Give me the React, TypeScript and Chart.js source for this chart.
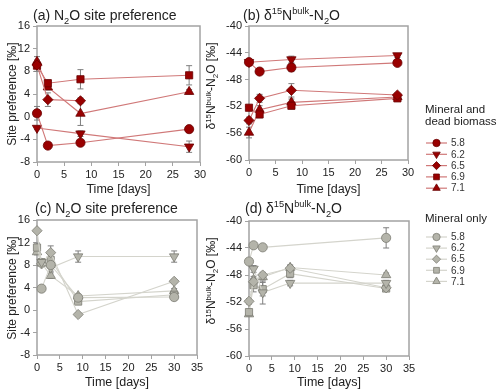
import React, { useEffect, useRef } from 'react';
import { Chart, registerables } from 'chart.js';

Chart.register(...registerables);

const FONT = '"Liberation Sans", Arial, Helvetica, sans-serif';

// ---------------- data ----------------
const DAYS_BIOMASS = [0, 2, 8, 28];
const DAYS_MINERAL = [0, 1, 3, 9, 30];
const PH_LABELS = ['5.8', '6.2', '6.5', '6.9', '7.1'];

// (a) site preference, mineral + dead biomass
const SP_BIO_58 = [0.6, -5.1, -4.6, -2.2];
const SP_BIO_62 = [-2.0, null, -3.0, -5.3];
const SP_BIO_65 = [9.1, 3.0, 2.8, null];
const SP_BIO_69 = [9.0, 5.9, 6.6, 7.3];
const SP_BIO_71 = [9.7, 5.2, 0.55, 4.4];
const SP_BIO_ERR_58 = [1.2, 0.5, 0.5, 0.5];
const SP_BIO_ERR_62 = [0.3, 0, 0.5, 1.0];
const SP_BIO_ERR_65 = [0.5, 1.2, 0.5, 0];
const SP_BIO_ERR_69 = [1.0, 0.6, 1.7, 1.7];
const SP_BIO_ERR_71 = [0.9, 0.5, 2.1, 0.4];

// (b) d15N bulk, mineral + dead biomass
const D15_BIO_58 = [-45.4, -46.8, -46.2, -45.5];
const D15_BIO_62 = [-45.4, null, -45.0, -44.4];
const D15_BIO_65 = [-54.1, -50.8, -49.6, -50.3];
const D15_BIO_69 = [-52.2, -53.2, -51.9, -50.8];
const D15_BIO_71 = [-55.9, -52.5, -51.4, -50.6];
const D15_BIO_ERR_58 = [0.4, 0.4, 0.6, 0.3];
const D15_BIO_ERR_62 = [0, 0, 0.5, 0.3];
const D15_BIO_ERR_65 = [0.5, 0.6, 1.0, 0.3];
const D15_BIO_ERR_69 = [0.3, 0.5, 0.5, 0.3];
const D15_BIO_ERR_71 = [0.8, 0.6, 0.5, 0.3];

// (c) site preference, mineral only
const SP_MIN_58 = [null, 3.8, 8.0, 2.2, 2.3];
const SP_MIN_62 = [null, 8.5, 7.5, 9.5, 9.5];
const SP_MIN_65 = [14.1, 8.2, 10.2, -0.8, 5.1];
const SP_MIN_69 = [11.1, 8.5, 8.9, 1.5, 2.7];
const SP_MIN_71 = [10.3, 8.3, 6.1, 2.5, 3.4];
const SP_MIN_ERR_58 = [0, 0, 0, 0, 0.5];
const SP_MIN_ERR_62 = [0, 0.5, 0.6, 1.0, 1.0];
const SP_MIN_ERR_65 = [0, 0.3, 1.2, 0.3, 0.3];
const SP_MIN_ERR_69 = [0.8, 0.5, 0.6, 0.4, 0.6];
const SP_MIN_ERR_71 = [0.5, 0.3, 0.5, 0.3, 0.4];

// (d) d15N bulk, mineral only
const D15_MIN_58 = [-46.0, -43.6, -43.9, null, -42.5];
const D15_MIN_62 = [null, -47.1, -50.6, -49.2, -49.2];
const D15_MIN_65 = [-51.9, -49.0, -48.0, -47.0, -49.9];
const D15_MIN_69 = [-53.5, -49.5, -50.1, -47.8, -50.0];
const D15_MIN_71 = [-53.8, -48.7, -48.3, -46.9, -48.0];
const D15_MIN_ERR_58 = [0.4, 0.3, 0.3, 0, 1.5];
const D15_MIN_ERR_62 = [0, 0.5, 1.7, 0.4, 0.4];
const D15_MIN_ERR_65 = [0.4, 0.5, 0.4, 0.4, 0.3];
const D15_MIN_ERR_69 = [0.4, 1.0, 1.0, 0.6, 0.3];
const D15_MIN_ERR_71 = [0.3, 0.5, 0.4, 0.4, 0.3];

// ---------------- styles ----------------
type Seg = { t: string; m?: 'sup' | 'sub' };

const RED = { fill: '#990000', border: '#6a0000', line: '#d07878' };
const GRAY = { fill: '#b4b4aa', border: '#7c7c74', line: '#d4d4cc' };

const SHAPES = [
  { style: 'circle', rot: 0, r: 4.6 },
  { style: 'triangle', rot: 180, r: 5.4 },
  { style: 'rectRot', rot: 0, r: 5.1 },
  { style: 'rect', rot: 0, r: 5.1 },
  { style: 'triangle', rot: 0, r: 5.4 },
];

const TEXT = '#222222';
const AXIS = '#a3a3a3';

function drawRich(ctx: CanvasRenderingContext2D, segs: Seg[], x: number, y: number, size: number, align: 'left' | 'center', rotate = false) {
  ctx.save();
  ctx.translate(x, y);
  if (rotate) ctx.rotate(-Math.PI / 2);
  const fs = (s: Seg) => (s.m ? size * 0.66 : size);
  let total = 0;
  const widths = segs.map((s) => {
    ctx.font = `${fs(s)}px ${FONT}`;
    const w = ctx.measureText(s.t).width;
    total += w;
    return w;
  });
  let cx = align === 'center' ? -total / 2 : 0;
  ctx.textBaseline = 'alphabetic';
  ctx.textAlign = 'left';
  ctx.fillStyle = TEXT;
  const base = size * 0.36;
  segs.forEach((s, i) => {
    ctx.font = `${fs(s)}px ${FONT}`;
    const dy = s.m === 'sup' ? -size * 0.4 : s.m === 'sub' ? size * 0.25 : 0;
    ctx.fillText(s.t, cx, base + dy);
    cx += widths[i];
  });
  ctx.restore();
}

function drawMarker(ctx: CanvasRenderingContext2D, style: string, rot: number, x: number, y: number, r: number) {
  ctx.beginPath();
  if (style === 'circle') {
    ctx.arc(x, y, r, 0, Math.PI * 2);
  } else if (style === 'triangle') {
    let a = (rot * Math.PI) / 180;
    for (let k = 0; k < 3; k++) {
      const px = x + Math.sin(a) * r;
      const py = y - Math.cos(a) * r;
      if (k === 0) ctx.moveTo(px, py);
      else ctx.lineTo(px, py);
      a += (2 * Math.PI) / 3;
    }
    ctx.closePath();
  } else if (style === 'rectRot') {
    ctx.moveTo(x, y - r);
    ctx.lineTo(x + r, y);
    ctx.lineTo(x, y + r);
    ctx.lineTo(x - r, y);
    ctx.closePath();
  } else {
    const s = r * Math.SQRT1_2;
    ctx.rect(x - s, y - s, 2 * s, 2 * s);
  }
  ctx.fill();
  ctx.stroke();
}

type Panel = {
  left: number; top: number; width: number; height: number;
  area: { l: number; r: number; t: number; b: number };
  days: number[];
  series: (number | null)[][];
  errors: number[][];
  xMax: number; yMin: number; yMax: number;
  color: typeof RED;
  title: Seg[]; titleX: number; titleY: number;
  yTitle: Seg[]; yTitleX: number; yTitleY: number;
  xTitleY: number;
  legend?: { header: string[]; headerY: number; entryY0: number; entryDy: number };
};

const D15_LABEL: Seg[] = [{ t: 'δ' }, { t: '15', m: 'sup' }, { t: 'N' }, { t: 'bulk', m: 'sup' }, { t: '-N' }, { t: '2', m: 'sub' }, { t: 'O' }];
const SP_TITLE = (p: string): Seg[] => [{ t: `(${p}) N` }, { t: '2', m: 'sub' }, { t: 'O site preference' }];

const PANELS: Panel[] = [
  {
    left: 0, top: 0, width: 214, height: 196,
    area: { l: 37, r: 200, t: 26, b: 162 },
    days: DAYS_BIOMASS,
    series: [SP_BIO_58, SP_BIO_62, SP_BIO_65, SP_BIO_69, SP_BIO_71],
    errors: [SP_BIO_ERR_58, SP_BIO_ERR_62, SP_BIO_ERR_65, SP_BIO_ERR_69, SP_BIO_ERR_71],
    xMax: 30, yMin: -8, yMax: 16, color: RED,
    title: SP_TITLE('a'), titleX: 33, titleY: 15,
    yTitle: [{ t: 'Site preference [‰]' }], yTitleX: 12, yTitleY: 94,
    xTitleY: 188,
  },
  {
    left: 190, top: 0, width: 310, height: 196,
    area: { l: 249, r: 408, t: 26, b: 160 },
    days: DAYS_BIOMASS,
    series: [D15_BIO_58, D15_BIO_62, D15_BIO_65, D15_BIO_69, D15_BIO_71],
    errors: [D15_BIO_ERR_58, D15_BIO_ERR_62, D15_BIO_ERR_65, D15_BIO_ERR_69, D15_BIO_ERR_71],
    xMax: 30, yMin: -60, yMax: -40, color: RED,
    title: [{ t: '(b) ' }, ...D15_LABEL], titleX: 243, titleY: 15,
    yTitle: [...D15_LABEL, { t: ' [‰]' }], yTitleX: 211, yTitleY: 86,
    xTitleY: 188,
    legend: { header: ['Mineral and', 'dead biomass'], headerY: 110, entryY0: 143, entryDy: 11.3 },
  },
  {
    left: 0, top: 196, width: 214, height: 196,
    area: { l: 37, r: 197, t: 220, b: 355 },
    days: DAYS_MINERAL,
    series: [SP_MIN_58, SP_MIN_62, SP_MIN_65, SP_MIN_69, SP_MIN_71],
    errors: [SP_MIN_ERR_58, SP_MIN_ERR_62, SP_MIN_ERR_65, SP_MIN_ERR_69, SP_MIN_ERR_71],
    xMax: 35, yMin: -8, yMax: 16, color: GRAY,
    title: SP_TITLE('c'), titleX: 35, titleY: 208,
    yTitle: [{ t: 'Site preference [‰]' }], yTitleX: 12, yTitleY: 288,
    xTitleY: 381,
  },
  {
    left: 190, top: 196, width: 310, height: 196,
    area: { l: 249, r: 409, t: 221, b: 356 },
    days: DAYS_MINERAL,
    series: [D15_MIN_58, D15_MIN_62, D15_MIN_65, D15_MIN_69, D15_MIN_71],
    errors: [D15_MIN_ERR_58, D15_MIN_ERR_62, D15_MIN_ERR_65, D15_MIN_ERR_69, D15_MIN_ERR_71],
    xMax: 35, yMin: -60, yMax: -40, color: GRAY,
    title: [{ t: '(d) ' }, ...D15_LABEL], titleX: 245, titleY: 208,
    yTitle: [...D15_LABEL, { t: ' [‰]' }], yTitleX: 211, yTitleY: 281,
    xTitleY: 381,
    legend: { header: ['Mineral only'], headerY: 219, entryY0: 237, entryDy: 11.1 },
  },
];

function buildChart(canvas: HTMLCanvasElement, p: Panel) {
  const ox = p.left;
  const oy = p.top;
  const datasets = p.series.map((vals, k) => ({
    label: PH_LABELS[k],
    data: p.days.map((d, i) => ({ x: d, y: vals[i] })),
    borderColor: p.color.line,
    borderWidth: 1.1,
    backgroundColor: p.color.fill,
    pointBackgroundColor: p.color.fill,
    pointBorderColor: p.color.border,
    pointBorderWidth: 0.8,
    pointStyle: SHAPES[k].style,
    pointRotation: SHAPES[k].rot,
    pointRadius: SHAPES[k].r,
    spanGaps: true,
    tension: 0,
    clip: false,
  }));

  const deco = {
    id: 'deco' + ox + '_' + oy,
    beforeDatasetsDraw(chart: any) {
      const ctx: CanvasRenderingContext2D = chart.ctx;
      const { left, right, top, bottom } = chart.chartArea;
      ctx.save();
      ctx.strokeStyle = AXIS;
      ctx.lineWidth = 1.5;
      ctx.strokeRect(left, top, right - left, bottom - top);
      // error bars
      const xs = chart.scales.x;
      const ys = chart.scales.y;
      ctx.strokeStyle = '#7f7f7f';
      ctx.lineWidth = 1;
      p.series.forEach((vals, k) => {
        vals.forEach((v, i) => {
          const e = p.errors[k][i];
          if (v === null || !e) return;
          const px = xs.getPixelForValue(p.days[i]);
          const y1 = ys.getPixelForValue(v + e);
          const y2 = ys.getPixelForValue(v - e);
          ctx.beginPath();
          ctx.moveTo(px, y1);
          ctx.lineTo(px, y2);
          ctx.moveTo(px - 3, y1);
          ctx.lineTo(px + 3, y1);
          ctx.moveTo(px - 3, y2);
          ctx.lineTo(px + 3, y2);
          ctx.stroke();
        });
      });
      ctx.restore();
    },
    afterDraw(chart: any) {
      const ctx: CanvasRenderingContext2D = chart.ctx;
      const { left, right } = chart.chartArea;
      drawRich(ctx, p.title, p.titleX - ox, p.titleY - oy, 14, 'left');
      drawRich(ctx, p.yTitle, p.yTitleX - ox, p.yTitleY - oy, 12, 'center', true);
      drawRich(ctx, [{ t: 'Time [days]' }], (left + right) / 2, p.xTitleY - oy, 12.5, 'center');
      if (p.legend) {
        const L = p.legend;
        ctx.save();
        ctx.fillStyle = TEXT;
        ctx.font = `11.5px ${FONT}`;
        ctx.textBaseline = 'middle';
        ctx.textAlign = 'left';
        L.header.forEach((h, j) => ctx.fillText(h, 425 - ox, L.headerY + j * 12 - oy));
        PH_LABELS.forEach((lab, k) => {
          const y = L.entryY0 + k * L.entryDy - oy;
          ctx.strokeStyle = p.color.line;
          ctx.lineWidth = 1.2;
          ctx.beginPath();
          ctx.moveTo(426 - ox, y);
          ctx.lineTo(447 - ox, y);
          ctx.stroke();
          ctx.fillStyle = p.color.fill;
          ctx.strokeStyle = p.color.border;
          ctx.lineWidth = 0.8;
          drawMarker(ctx, SHAPES[k].style, SHAPES[k].rot, 436.5 - ox, y, SHAPES[k].r * 0.8);
          ctx.fillStyle = '#333';
          ctx.font = `10px ${FONT}`;
          ctx.fillText(lab, 451 - ox, y + 0.5);
        });
        ctx.restore();
      }
    },
  };

  return new Chart(canvas, {
    type: 'line',
    data: { datasets: datasets as any },
    options: {
      responsive: false,
      animation: false,
      devicePixelRatio: 1,
      layout: {
        padding: {
          left: 0,
          top: p.area.t - oy,
          right: ox + p.width - p.area.r,
          bottom: 0,
        },
      },
      plugins: { legend: { display: false }, tooltip: { enabled: false }, title: { display: false } },
      scales: {
        x: {
          type: 'linear',
          min: 0,
          max: p.xMax,
          ticks: { stepSize: 5, color: TEXT, font: { family: FONT, size: 11 }, padding: 2, maxRotation: 0 },
          grid: { drawOnChartArea: false, drawTicks: true, tickLength: 4, color: AXIS },
          border: { display: false },
          afterFit: (s: any) => { s.height = oy + p.height - p.area.b; },
        },
        y: {
          type: 'linear',
          min: p.yMin,
          max: p.yMax,
          ticks: { stepSize: 4, color: TEXT, font: { family: FONT, size: 11 }, padding: 3 },
          grid: { drawOnChartArea: false, drawTicks: true, tickLength: 4, color: AXIS },
          border: { display: false },
          afterFit: (s: any) => { s.width = p.area.l - ox; },
        },
      },
    } as any,
    plugins: [deco],
  });
}

export default function App() {
  const refs = useRef<(HTMLCanvasElement | null)[]>([]);
  useEffect(() => {
    const charts = PANELS.map((p, i) => buildChart(refs.current[i] as HTMLCanvasElement, p));
    return () => charts.forEach((c) => c.destroy());
  }, []);
  return (
    <div style={{ position: 'absolute', left: 0, top: 0, width: 500, height: 392, background: '#fff' }}>
      {PANELS.map((p, i) => (
        <canvas
          key={i}
          ref={(el) => { refs.current[i] = el; }}
          width={p.width}
          height={p.height}
          style={{ position: 'absolute', left: p.left, top: p.top, width: p.width, height: p.height }}
        />
      ))}
    </div>
  );
}
